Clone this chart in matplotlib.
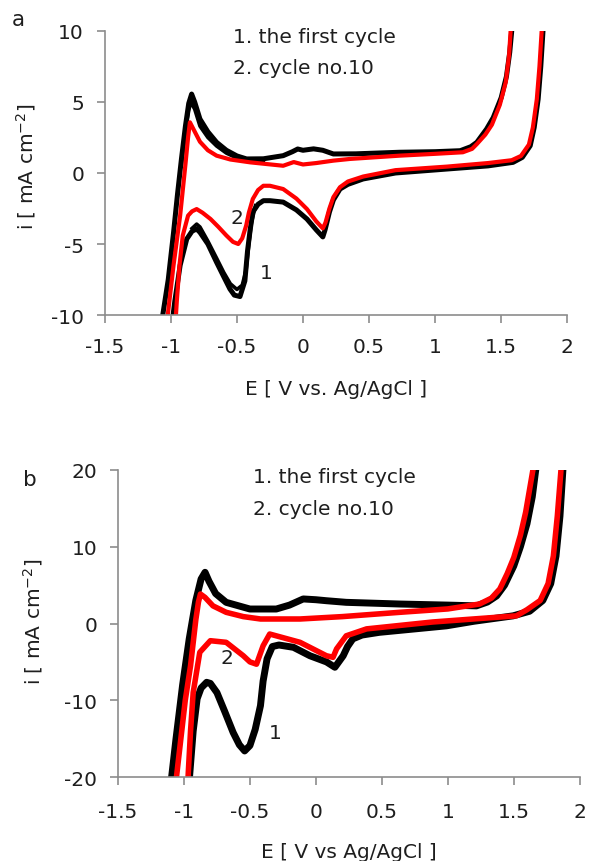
import matplotlib
matplotlib.use('Agg')
import matplotlib.pyplot as plt

plt.rcParams['font.family'] = 'DejaVu Sans'
plt.rcParams['axes.unicode_minus'] = False

# (a) first cycle
a1_E = [-1.07, -1.02, -0.98, -0.95, -0.92, -0.89, -0.865, -0.843, -0.82, -0.78, -0.72, -0.654,
        -0.58, -0.5, -0.427, -0.3, -0.15, -0.08, -0.04, 0.0, 0.08, 0.15, 0.23, 0.4, 0.73, 1.0,
        1.19, 1.27, 1.316, 1.39, 1.44, 1.5, 1.54, 1.565, 1.585,
        1.82, 1.80, 1.78, 1.75, 1.72, 1.66, 1.59, 1.4, 1.09, 0.7, 0.455, 0.34, 0.28, 0.23, 0.2,
        0.167, 0.15, 0.1, 0.03, -0.05, -0.15, -0.25, -0.30, -0.34, -0.38, -0.40, -0.42, -0.44,
        -0.477, -0.52, -0.553, -0.6, -0.654, -0.72, -0.78, -0.805, -0.84, -0.88, -0.93, -0.97, -0.99]
a1_i = [-10.5, -7.5, -4.2, -1.5, 1.0, 3.3, 4.9, 5.56, 5.0, 3.8, 2.9, 2.16,
        1.6, 1.2, 0.99, 1.0, 1.22, 1.5, 1.69, 1.6, 1.7, 1.6, 1.34, 1.35, 1.46, 1.5,
        1.57, 1.85, 2.16, 3.1, 3.9, 5.3, 6.8, 8.5, 10.5,
        10.5, 7.5, 5.2, 3.2, 1.92, 1.1, 0.75, 0.5, 0.28, 0.0, -0.42, -0.8, -1.13, -1.9, -2.75,
        -4.0, -4.5, -4.0, -3.24, -2.6, -2.05, -1.95, -1.95, -2.2, -2.75, -4.0, -5.5, -7.6,
        -8.7, -8.6, -8.17, -7.3, -6.29, -5.0, -4.18, -3.94, -4.1, -4.65, -6.5, -9.0, -10.5]

# (a) first cycle, second pass (slightly lower peaks)
a1b_E = [-0.92, -0.89, -0.865, -0.85, -0.82, -0.78, -0.72, -0.654, -0.58, -0.5, -0.427, -0.3]
a1b_i = [0.6, 2.9, 4.4, 5.0, 4.5, 3.3, 2.5, 1.9, 1.4, 1.05, 0.9, 0.9]
a1c_E = [-0.36, -0.39, -0.41, -0.43, -0.46, -0.50, -0.55, -0.6, -0.654, -0.72, -0.78, -0.805, -0.84]
a1c_i = [-2.3, -3.5, -5.0, -6.8, -7.9, -8.2, -7.8, -7.0, -6.0, -4.8, -3.8, -3.6, -3.9]

# (a) cycle no. 10
a10_E = [-1.03, -0.98, -0.93, -0.89, -0.87, -0.856, -0.83, -0.78, -0.72, -0.654, -0.55, -0.4,
         -0.15, -0.07, 0.0, 0.1, 0.23, 0.356, 0.73, 1.0, 1.21, 1.28, 1.316, 1.38, 1.43, 1.49,
         1.535, 1.56, 1.575,
         1.81, 1.79, 1.77, 1.74, 1.71, 1.65, 1.58, 1.4, 1.09, 0.7, 0.455, 0.34, 0.28, 0.23, 0.2,
         0.17, 0.15, 0.1, 0.03, -0.05, -0.15, -0.25, -0.30, -0.34, -0.38, -0.41, -0.43, -0.46,
         -0.49, -0.53, -0.58, -0.64, -0.70, -0.76, -0.805, -0.84, -0.87, -0.91, -0.935, -0.955, -0.965]
a10_i = [-10.5, -6.5, -3.0, 0.6, 2.5, 3.57, 3.1, 2.2, 1.6, 1.22, 0.95, 0.75,
         0.51, 0.77, 0.6, 0.7, 0.87, 0.99, 1.22, 1.35, 1.46, 1.7, 2.04, 2.7, 3.4, 4.8,
         6.4, 8.3, 10.5,
         10.5, 7.5, 5.2, 3.2, 2.0, 1.2, 0.9, 0.7, 0.45, 0.2, -0.25, -0.6, -1.0, -1.7, -2.5,
         -3.5, -3.9, -3.4, -2.54, -1.8, -1.13, -0.9, -0.9, -1.2, -1.83, -2.8, -3.7, -4.6,
         -5.0, -4.85, -4.4, -3.8, -3.24, -2.8, -2.54, -2.7, -3.0, -4.4, -6.5, -9.0, -10.5]

# (b) first cycle
b1_E = [-1.10, -1.06, -1.01, -0.96, -0.91, -0.87, -0.84, -0.81, -0.76, -0.68, -0.5, -0.30,
        -0.2, -0.096, 0.0, 0.08, 0.23, 0.636, 1.0, 1.217, 1.30, 1.37, 1.43, 1.50, 1.55, 1.60,
        1.64, 1.67,
        1.874, 1.85, 1.82, 1.78, 1.72, 1.62, 1.495, 1.2, 0.99, 0.48, 0.35, 0.28, 0.24, 0.207,
        0.144, 0.08, -0.045, -0.17, -0.28, -0.33, -0.37, -0.40, -0.42, -0.46, -0.5, -0.54,
        -0.58, -0.627, -0.69, -0.75, -0.80, -0.828, -0.87, -0.9, -0.93, -0.955, -0.96]
b1_i = [-21, -15, -8, -2, 3.0, 5.8, 6.67, 5.5, 3.9, 2.76, 1.89, 1.89,
        2.4, 3.2, 3.1, 2.97, 2.76, 2.54, 2.4, 2.3, 2.8, 3.6, 5.0, 7.5, 10.0, 13.0,
        16.5, 20.5,
        20.5, 14, 8.8, 5.2, 3.0, 1.6, 1.0, 0.3, -0.3, -1.15, -1.5, -2.0, -3.0, -4.2,
        -5.7, -5.0, -4.2, -3.1, -2.8, -3.0, -4.6, -7.5, -10.7, -13.8, -15.9, -16.6,
        -15.8, -14.2, -11.5, -9.0, -7.8, -7.66, -8.4, -9.8, -14, -19.4, -20.5]

# (b) cycle no. 10
b10_E = [-1.06, -1.03, -0.99, -0.95, -0.93, -0.91, -0.89, -0.875, -0.84, -0.78, -0.68, -0.55,
         -0.42, -0.12, 0.2, 0.636, 1.0, 1.24, 1.33, 1.394, 1.45, 1.50, 1.55, 1.59, 1.62, 1.65,
         1.86, 1.83, 1.80, 1.76, 1.70, 1.60, 1.52, 1.2, 0.886, 0.384, 0.23, 0.157, 0.13, 0.08,
         -0.12, -0.35, -0.40, -0.45, -0.50, -0.55, -0.68, -0.80, -0.88, -0.93, -0.95, -0.967, -0.97]
b10_i = [-20.5, -16, -10, -5.5, -2.5, 0.5, 2.8, 3.84, 3.4, 2.3, 1.46, 0.9,
         0.59, 0.59, 0.9, 1.46, 1.9, 2.54, 3.3, 4.5, 6.5, 8.6, 11.5, 14.5, 17.5, 20.5,
         20.5, 14, 8.8, 5.2, 3.0, 1.8, 1.0, 0.6, 0.2, -0.7, -1.6, -3.3, -4.4, -4.2,
         -2.45, -1.37, -2.9, -5.3, -5.0, -4.2, -2.45, -2.24, -3.75, -9.0, -14, -19.4, -20.5]

xticks = [-1.5, -1, -0.5, 0, 0.5, 1, 1.5, 2]
xtick_labels = ['-1.5', '-1', '-0.5', '0', '0.5', '1', '1.5', '2']

fs = 14.5
axis_grey = '#8c8c8c'
text_col = '#1e1e1e'

fig = plt.figure(figsize=(5.89, 8.62), dpi=100)


def style(ax, ylim, yticks, xpad):
    ax.set_xlim(-1.5, 2)
    ax.set_ylim(*ylim)
    ax.set_xticks(xticks)
    ax.set_xticklabels(xtick_labels)
    ax.set_yticks(yticks)
    ax.set_yticklabels([str(t) for t in yticks])
    for s in ['top', 'right']:
        ax.spines[s].set_visible(False)
    for s in ['left', 'bottom']:
        ax.spines[s].set_color(axis_grey)
        ax.spines[s].set_linewidth(1.2)
    ax.tick_params(direction='out', length=6, width=1.2, color=axis_grey,
                   labelsize=fs, labelcolor=text_col)
    ax.tick_params(axis='x', pad=xpad)
    ax.tick_params(axis='y', pad=9)


# panel a
ax1 = fig.add_axes([0.178, 0.6334, 0.785, 0.3295])
ax1.plot(a1_E, a1_i, '-', color='k', lw=3.6, solid_joinstyle='round')
ax1.plot(a1b_E, a1b_i, '-', color='k', lw=2.6, solid_joinstyle='round')
ax1.plot(a1c_E, a1c_i, '-', color='k', lw=2.6, solid_joinstyle='round')
ax1.plot(a10_E, a10_i, '-', color='#ff0000', lw=3.0, solid_joinstyle='round')
style(ax1, (-10, 10), [-10, -5, 0, 5, 10], 10)
ax1.set_xlabel('E [ V vs. Ag/AgCl ]', fontsize=fs, color=text_col)
ax1.set_ylabel('i [ mA cm$^{-2}$]', fontsize=fs, color=text_col)
ax1.xaxis.set_label_coords(0.5, -0.225)
ax1.yaxis.set_label_coords(-0.145, 0.525)
ax1.text(0.277, 0.982, '1. the first cycle', transform=ax1.transAxes,
         fontsize=fs, color=text_col, va='center', ha='left')
ax1.text(0.277, 0.873, '2. cycle no.10', transform=ax1.transAxes,
         fontsize=fs, color=text_col, va='center', ha='left')
ax1.text(-0.50, -3.1, '2', fontsize=fs, color=text_col, ha='center', va='center')
ax1.text(-0.275, -7.0, '1', fontsize=fs, color=text_col, ha='center', va='center')
fig.text(12 / 589, 1 - 20 / 862, 'a', fontsize=fs + 1, color=text_col, ha='left', va='center')

# panel b
ax2 = fig.add_axes([0.2003, 0.0974, 0.784, 0.3562])
ax2.plot(b1_E, b1_i, '-', color='k', lw=5.0, solid_joinstyle='round')
ax2.plot(b10_E, b10_i, '-', color='#ff0000', lw=4.0, solid_joinstyle='round')
style(ax2, (-20, 20), [-20, -10, 0, 10, 20], 12)
ax2.set_xlabel('E [ V vs Ag/AgCl ]', fontsize=fs, color=text_col)
ax2.set_ylabel('i [ mA cm$^{-2}$]', fontsize=fs, color=text_col)
ax2.xaxis.set_label_coords(0.5, -0.21)
ax2.yaxis.set_label_coords(-0.158, 0.508)
ax2.text(0.292, 0.980, '1. the first cycle', transform=ax2.transAxes,
         fontsize=fs, color=text_col, va='center', ha='left')
ax2.text(0.292, 0.873, '2. cycle no.10', transform=ax2.transAxes,
         fontsize=fs, color=text_col, va='center', ha='left')
ax2.text(-0.677, -4.37, '2', fontsize=fs, color=text_col, ha='center', va='center')
ax2.text(-0.31, -14.2, '1', fontsize=fs, color=text_col, ha='center', va='center')
fig.text(23 / 589, 1 - 480 / 862, 'b', fontsize=fs + 1, color=text_col, ha='left', va='center')

fig.savefig('out.png', dpi=100)
